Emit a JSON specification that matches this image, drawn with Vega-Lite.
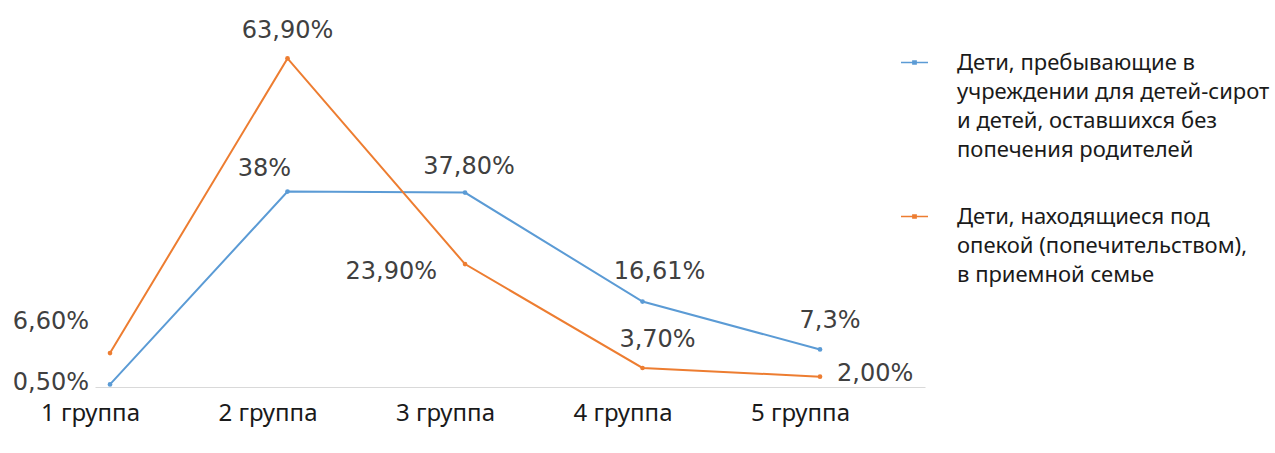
{
  "$schema": "https://vega.github.io/schema/vega-lite/v6.json",
  "width": 830,
  "height": 360,
  "autosize": {"type": "none"},
  "padding": {"left": 95, "top": 27, "right": 350, "bottom": 66},
  "background": "white",
  "config": {"view": {"stroke": null}, "style": {"guide-label": {"lineHeight": 29}}},
  "data": {
    "values": [
      {"group": "1 группа", "series": "Дети, пребывающие в\nучреждении для детей-сирот\nи детей, оставшихся без\nпопечения родителей", "value": 0.5, "label": "0,50%"},
      {"group": "2 группа", "series": "Дети, пребывающие в\nучреждении для детей-сирот\nи детей, оставшихся без\nпопечения родителей", "value": 38, "label": "38%"},
      {"group": "3 группа", "series": "Дети, пребывающие в\nучреждении для детей-сирот\nи детей, оставшихся без\nпопечения родителей", "value": 37.8, "label": "37,80%"},
      {"group": "4 группа", "series": "Дети, пребывающие в\nучреждении для детей-сирот\nи детей, оставшихся без\nпопечения родителей", "value": 16.61, "label": "16,61%"},
      {"group": "5 группа", "series": "Дети, пребывающие в\nучреждении для детей-сирот\nи детей, оставшихся без\nпопечения родителей", "value": 7.3, "label": "7,3%"},
      {"group": "1 группа", "series": "Дети, находящиеся под\nопекой (попечительством),\nв приемной семье", "value": 6.6, "label": "6,60%"},
      {"group": "2 группа", "series": "Дети, находящиеся под\nопекой (попечительством),\nв приемной семье", "value": 63.9, "label": "63,90%"},
      {"group": "3 группа", "series": "Дети, находящиеся под\nопекой (попечительством),\nв приемной семье", "value": 23.9, "label": "23,90%"},
      {"group": "4 группа", "series": "Дети, находящиеся под\nопекой (попечительством),\nв приемной семье", "value": 3.7, "label": "3,70%"},
      {"group": "5 группа", "series": "Дети, находящиеся под\nопекой (попечительством),\nв приемной семье", "value": 2.0, "label": "2,00%"}
    ]
  },
  "encoding": {
    "x": {
      "field": "group",
      "type": "ordinal",
      "scale": {"type": "point", "padding": 0.338, "align": 0.125},
      "axis": {
        "title": null,
        "labelAngle": 0,
        "ticks": false,
        "tickSize": 0,
        "grid": false,
        "domain": true,
        "domainColor": "#d9d9d9",
        "domainWidth": 1,
        "labelPadding": 14,
        "labelOffset": -20,
        "labelFont": "Noto Sans",
        "labelFontSize": 24,
        "labelColor": "#1a1a1a"
      }
    },
    "y": {
      "field": "value",
      "type": "quantitative",
      "scale": {"domain": [0, 70]},
      "axis": null
    }
  },
  "layer": [
    {
      "mark": {"type": "line", "strokeWidth": 2},
      "encoding": {
        "color": {
          "field": "series",
          "type": "nominal",
          "scale": {
            "domain": [
              "Дети, пребывающие в\nучреждении для детей-сирот\nи детей, оставшихся без\nпопечения родителей",
              "Дети, находящиеся под\nопекой (попечительством),\nв приемной семье"
            ],
            "range": ["#5b9bd5", "#ed7d31"]
          },
          "legend": {
            "orient": "none",
            "legendX": 805,
            "legendY": 21,
            "title": null,
            "padding": 0,
            "labelExpr": "split(datum.label, '\\n')",
            "labelFont": "Noto Sans",
            "labelFontSize": 22,
            "labelColor": "#1a1a1a",
            "labelLimit": 500,
            "labelOffset": 28,
            "labelBaseline": "middle",
            "rowPadding": 41,
            "symbolType": "M-1,0H1M-0.12,-0.12H0.12V0.12H-0.12Z",
            "symbolSize": 729,
            "symbolStrokeWidth": 1.5
          }
        }
      }
    },
    {
      "mark": {"type": "point", "filled": true, "size": 22, "opacity": 1},
      "encoding": {
        "color": {"field": "series", "type": "nominal"}
      }
    },
    {
      "transform": [{"filter": "datum.label === '0,50%'"}],
      "mark": {"type": "text", "align": "right", "baseline": "middle", "dx": -21, "dy": -1, "font": "DejaVu Sans", "fontSize": 24, "color": "#404040"},
      "encoding": {"text": {"field": "label"}}
    },
    {
      "transform": [{"filter": "datum.label === '6,60%'"}],
      "mark": {"type": "text", "align": "right", "baseline": "middle", "dx": -21, "dy": -31, "font": "DejaVu Sans", "fontSize": 24, "color": "#404040"},
      "encoding": {"text": {"field": "label"}}
    },
    {
      "transform": [{"filter": "datum.label === '23,90%'"}],
      "mark": {"type": "text", "align": "right", "baseline": "middle", "dx": -28, "dy": 8, "font": "DejaVu Sans", "fontSize": 24, "color": "#404040"},
      "encoding": {"text": {"field": "label"}}
    },
    {
      "transform": [{"filter": "datum.label === '2,00%'"}],
      "mark": {"type": "text", "align": "left", "baseline": "middle", "dx": 17, "dy": -3, "font": "DejaVu Sans", "fontSize": 24, "color": "#404040"},
      "encoding": {"text": {"field": "label"}}
    },
    {
      "transform": [{"filter": "datum.label === '63,90%'"}],
      "mark": {"type": "text", "align": "center", "baseline": "middle", "dx": 0, "dy": -27, "font": "DejaVu Sans", "fontSize": 24, "color": "#404040"},
      "encoding": {"text": {"field": "label"}}
    },
    {
      "transform": [{"filter": "datum.label === '38%'"}],
      "mark": {"type": "text", "align": "center", "baseline": "middle", "dx": -23, "dy": -23, "font": "DejaVu Sans", "fontSize": 24, "color": "#404040"},
      "encoding": {"text": {"field": "label"}}
    },
    {
      "transform": [{"filter": "datum.label === '37,80%'"}],
      "mark": {"type": "text", "align": "center", "baseline": "middle", "dx": 4, "dy": -26, "font": "DejaVu Sans", "fontSize": 24, "color": "#404040"},
      "encoding": {"text": {"field": "label"}}
    },
    {
      "transform": [{"filter": "datum.label === '16,61%'"}],
      "mark": {"type": "text", "align": "center", "baseline": "middle", "dx": 17, "dy": -30, "font": "DejaVu Sans", "fontSize": 24, "color": "#404040"},
      "encoding": {"text": {"field": "label"}}
    },
    {
      "transform": [{"filter": "datum.label === '3,70%'"}],
      "mark": {"type": "text", "align": "center", "baseline": "middle", "dx": 15, "dy": -28, "font": "DejaVu Sans", "fontSize": 24, "color": "#404040"},
      "encoding": {"text": {"field": "label"}}
    },
    {
      "transform": [{"filter": "datum.label === '7,3%'"}],
      "mark": {"type": "text", "align": "center", "baseline": "middle", "dx": 10, "dy": -28, "font": "DejaVu Sans", "fontSize": 24, "color": "#404040"},
      "encoding": {"text": {"field": "label"}}
    }
  ]
}
